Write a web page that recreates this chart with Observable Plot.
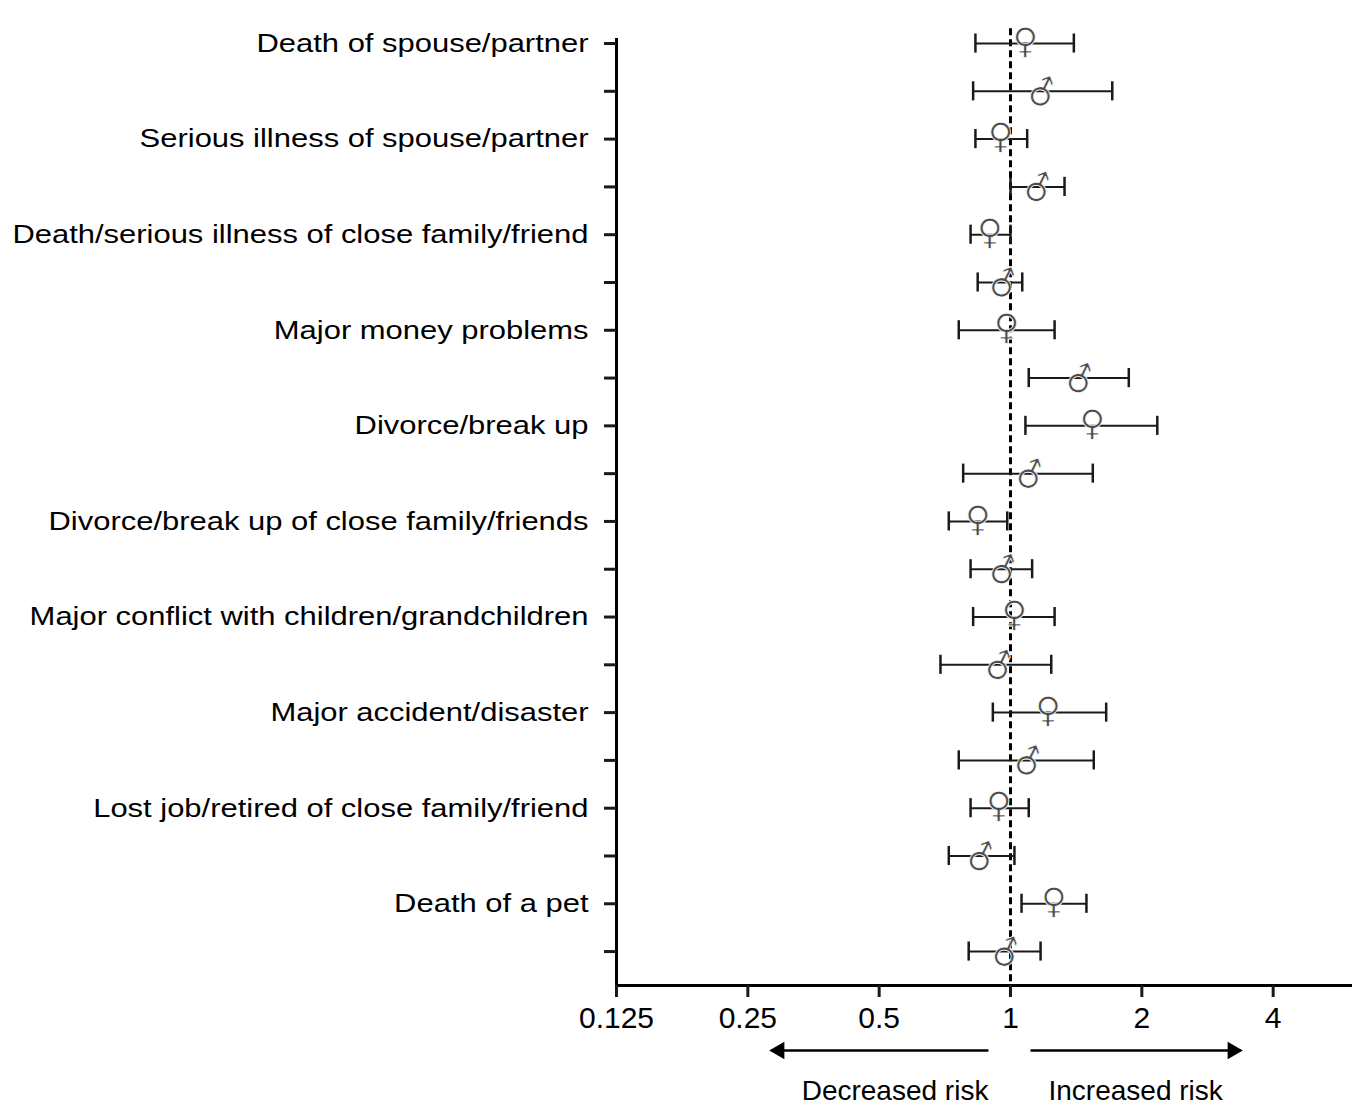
<!DOCTYPE html>
<html>
<head>
<meta charset="utf-8">
<script src="https://cdn.jsdelivr.net/npm/d3@7"></script>
<script src="https://cdn.jsdelivr.net/npm/@observablehq/plot@0.6"></script>
<style>
  html, body { margin: 0; padding: 0; background: #fff; }
  #chart { width: 1362px; height: 1111px; }
</style>
</head>
<body>
<div id="chart"></div>
<script>
// ---- Data ----
const events = [
  "Death of spouse/partner",
  "Serious illness of spouse/partner",
  "Death/serious illness of close family/friend",
  "Major money problems",
  "Divorce/break up",
  "Divorce/break up of close family/friends",
  "Major conflict with children/grandchildren",
  "Major accident/disaster",
  "Lost job/retired of close family/friend",
  "Death of a pet"
];
const femaleEst = [1.082, 0.949, 0.897, 0.979, 1.539, 0.841, 1.021, 1.220, 0.940, 1.257];
const femaleLo  = [0.831, 0.831, 0.810, 0.761, 1.082, 0.722, 0.821, 0.911, 0.810, 1.060];
const femaleHi  = [1.397, 1.092, 1.000, 1.262, 2.170, 0.983, 1.262, 1.657, 1.101, 1.493];
const maleEst   = [1.184, 1.159, 0.964, 1.447, 1.111, 0.964, 0.944, 1.100, 0.858, 0.979];
const maleLo    = [0.821, 1.000, 0.841, 1.101, 0.779, 0.810, 0.691, 0.761, 0.722, 0.802];
const maleHi    = [1.711, 1.330, 1.064, 1.867, 1.544, 1.121, 1.240, 1.552, 1.021, 1.172];
const xTicks = [0.125, 0.25, 0.5, 1, 2, 4];
const xDomain = [0.125, 6.08];
const yDomain = [-0.105, 19.71];
const FEMALE = "\u2640\uFE0E", MALE = "\u2642\uFE0E";

// annotation below the axis
const riskArrows = [
  {from: 0.89, to: 0.283, dir: "left"},
  {from: 1.111, to: 3.37, dir: "right"}
];
const riskLabels = [
  {x: 0.89, text: "Decreased risk", anchor: "end"},
  {x: 1.222, text: "Increased risk", anchor: "start"}
];
const annotArrowRow = 21.07, annotTextRow = 21.91;

// ---- Build table ----
const rows = [];
events.forEach((e, i) => {
  rows.push({row: 2 * i, event: e, sex: "F", est: femaleEst[i], lo: femaleLo[i], hi: femaleHi[i], sym: FEMALE});
  rows.push({row: 2 * i + 1, event: e, sex: "M", est: maleEst[i], lo: maleLo[i], hi: maleHi[i], sym: MALE});
});
const rowIdx = rows.map(d => d.row);
const ink = "#1a1a1a";
const symFont = "'DejaVu Sans', sans-serif";
const symStyle = {fontSize: 35, fontFamily: symFont, fill: "#4a4a4a", stroke: "#fff", strokeWidth: 0.8, paintOrder: "normal"};

const chart = Plot.plot({
  width: 1362,
  height: 1111,
  marginLeft: 616,
  marginRight: 10,
  marginTop: 38,
  marginBottom: 126,
  style: {fontFamily: "'Liberation Sans', Arial, sans-serif", color: ink, background: "#fff"},
  x: {type: "log", base: 2, domain: xDomain, range: [616, 1352]},
  y: {domain: yDomain, range: [38, 985]},
  marks: [
    // reference line at 1
    Plot.ruleX([1], {y1: -0.31, y2: yDomain[1], stroke: "#000", strokeWidth: 3, strokeDasharray: "7,4"}),
    // error bars
    Plot.ruleY(rows, {y: "row", x1: "lo", x2: "hi", stroke: ink, strokeWidth: 2}),
    Plot.ruleX(rows, {x: "lo", y1: d => d.row - 0.2, y2: d => d.row + 0.2, stroke: ink, strokeWidth: 2.5}),
    Plot.ruleX(rows, {x: "hi", y1: d => d.row - 0.2, y2: d => d.row + 0.2, stroke: ink, strokeWidth: 2.5}),
    // point estimates as sex symbols (text glyphs)
    Plot.text(rows.filter(d => d.sex === "F"), {x: "est", y: "row", text: "sym", ...symStyle, dy: -2}),
    Plot.text(rows.filter(d => d.sex === "M"), {x: "est", y: "row", text: "sym", ...symStyle, rotate: -20, dy: 2}),
    // axes
    Plot.ruleX([xDomain[0]], {y1: yDomain[0], y2: yDomain[1], stroke: "#000", strokeWidth: 3}),
    Plot.ruleY([yDomain[1]], {x1: xDomain[0], x2: xDomain[1], stroke: "#000", strokeWidth: 3}),
    Plot.axisX({anchor: "bottom", ticks: xTicks, tickFormat: d => String(d), tickSize: 12, tickPadding: 9, strokeWidth: 3, fontSize: 30, label: null, fill: "#000"}),
    Plot.axisY({anchor: "left", ticks: rowIdx, tickFormat: i => (i % 2 === 0 ? events[i / 2] : ""), tickSize: 12, tickPadding: 16, strokeWidth: 3, fontSize: 26, label: null, fill: "#000"}),
    // risk annotation
    Plot.link(riskArrows, {x1: "from", x2: "to", y1: annotArrowRow, y2: annotArrowRow, stroke: "#000", strokeWidth: 2.5}),
    Plot.dot(riskArrows.filter(d => d.dir === "right"), {x: "to", y: annotArrowRow, symbol: "triangle", rotate: 90, r: 6.5, fill: "#000", stroke: "none", dx: -8}),
    Plot.dot(riskArrows.filter(d => d.dir === "left"), {x: "to", y: annotArrowRow, symbol: "triangle", rotate: -90, r: 6.5, fill: "#000", stroke: "none", dx: 8}),
    Plot.text(riskLabels.filter(d => d.anchor === "end"), {x: "x", y: annotTextRow, text: "text", textAnchor: "end", fontSize: 28, fill: "#000"}),
    Plot.text(riskLabels.filter(d => d.anchor === "start"), {x: "x", y: annotTextRow, text: "text", textAnchor: "start", fontSize: 28, fill: "#000"})
  ]
});
document.getElementById("chart").appendChild(chart);

// The row labels in the reference are wider than their height suggests
d3.select(chart).selectAll('g[aria-label="y-axis tick label"] text').each(function () {
  const len = this.getComputedTextLength();
  if (len > 0) {
    this.setAttribute("textLength", (len * 1.19).toFixed(1));
    this.setAttribute("lengthAdjust", "spacingAndGlyphs");
  }
});
</script>
</body>
</html>
